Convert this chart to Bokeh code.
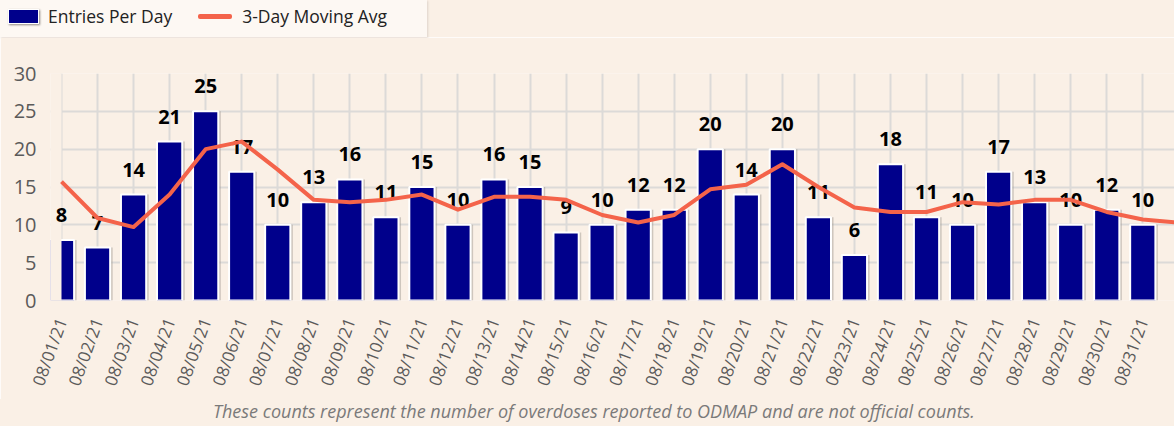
import math
from bokeh.plotting import figure
from bokeh.layouts import column
from bokeh.models import (Range1d, FixedTicker, Div, ColumnDataSource)
from bokeh.transform import dodge
from bokeh.core.properties import value
from bokeh.embed import file_html
from bokeh.resources import INLINE

dates = ["08/01/21", "08/02/21", "08/03/21", "08/04/21", "08/05/21", "08/06/21",
         "08/07/21", "08/08/21", "08/09/21", "08/10/21", "08/11/21", "08/12/21",
         "08/13/21", "08/14/21", "08/15/21", "08/16/21", "08/17/21", "08/18/21",
         "08/19/21", "08/20/21", "08/21/21", "08/22/21", "08/23/21", "08/24/21",
         "08/25/21", "08/26/21", "08/27/21", "08/28/21", "08/29/21", "08/30/21",
         "08/31/21"]
entries = [8, 7, 14, 21, 25, 17, 10, 13, 16, 11, 15, 10, 16, 15, 9, 10, 12, 12,
           20, 14, 20, 11, 6, 18, 11, 10, 17, 13, 10, 12, 10]
# 3-day moving average (last point continues past the edge)
moving_avg = [15.7, 10.9, 9.7, 14.0, 20.0, 21.0, 17.3, 13.3, 13.0, 13.3, 14.0,
              12.0, 13.7, 13.7, 13.3, 11.3, 10.3, 11.3, 14.7, 15.3, 18.0, 15.0,
              12.3, 11.7, 11.7, 13.0, 12.7, 13.3, 13.3, 11.7, 10.7, 10.3]
y_ticks = [0, 5, 10, 15, 20, 25, 30]
series_names = ["Entries Per Day", "3-Day Moving Avg"]
caption = "These counts represent the number of overdoses reported to ODMAP and are not official counts."

BG = "#FAF0E6"
NAVY = "#00008B"
RED = "#F4634A"
GREY = "#5A5A5A"
FONT = "Open Sans"

bar_src = ColumnDataSource(dict(x=list(range(len(entries))), top=entries,
                                lbl=[str(v) for v in entries]))
line_src = ColumnDataSource(dict(x=list(range(len(moving_avg))), y=moving_avg))

X0 = -0.305  # a little room left of the first category so its label shows
p = figure(width=1174, height=362, output_backend="svg", toolbar_location=None,
           x_range=Range1d(X0, 30.88), y_range=Range1d(y_ticks[0], y_ticks[-1]),
           min_border_left=50, min_border_right=0, min_border_top=36,
           min_border_bottom=99, margin=0)
p.background_fill_color = BG
p.border_fill_color = BG
p.outline_line_color = None

# grid
p.xgrid.ticker = FixedTicker(ticks=list(range(len(dates))))
p.ygrid.ticker = FixedTicker(ticks=y_ticks)
for g in (p.xgrid, p.ygrid):
    g.grid_line_color = "#DCDAD8"
    g.grid_line_width = 2

# axes
xa = p.xaxis[0]
xa.ticker = FixedTicker(ticks=list(range(len(dates))))
xa.major_label_overrides = {i: d for i, d in enumerate(dates)}
xa.major_label_orientation = math.radians(70)
xa.major_label_text_font = FONT
xa.major_label_text_font_size = "17px"
xa.major_label_text_color = GREY
xa.major_label_standoff = 12
xa.major_tick_line_color = None
xa.minor_tick_line_color = None
xa.axis_line_color = None

ya = p.yaxis[0]
ya.ticker = FixedTicker(ticks=y_ticks)
ya.major_label_text_font = FONT
ya.major_label_text_font_size = "20px"
ya.major_label_text_color = GREY
ya.major_label_standoff = 8
ya.major_tick_line_color = None
ya.minor_tick_line_color = None
ya.axis_line_color = None

# bars with a soft shadow
p.vbar(x=dodge("x", 0.07, range=p.x_range), top="top", width=0.7, source=bar_src,
       fill_color="#9A938C", fill_alpha=0.45, line_color=None)
p.vbar(x="x", top="top", width=0.7, source=bar_src, fill_color=NAVY,
       line_color="white", line_width=2)

# plot area really starts at the first category: hide what lies left of it
p.quad(left=[X0], right=[0], bottom=[y_ticks[0] - 1], top=[y_ticks[-1] + 1],
       fill_color=BG, line_color=None)

# value labels
p.text(x="x", y="top", text="lbl", source=bar_src, text_align="center",
       text_baseline="alphabetic", y_offset=-25, text_font=value(FONT),
       text_font_style="bold", text_font_size="20px", text_color="black")

# moving average line
p.line(x="x", y="y", source=line_src, line_color=RED, line_width=4,
       line_join="round", line_cap="butt")

# legend strip (HTML) above the plot
legend_html = (
    '<div style="display:flex;align-items:center;box-sizing:border-box;'
    'width:427px;height:37px;padding-bottom:4px;background:#FDF8F3;'
    'box-shadow:1px 1px 2px #DDD3CA;font-family:\'Open Sans\';font-size:17.5px;'
    'color:#222222;white-space:nowrap;">'
    '<span style="display:inline-block;width:31px;height:15px;margin-left:8px;'
    'background:%s;border:1px solid #FFFFFF;box-shadow:1px 1px 2px #8E8780;"></span>'
    '<span style="margin-left:9px;">%s</span>'
    '<span style="display:inline-block;width:34px;height:5px;margin-left:26px;'
    'background:%s;border-radius:2px;"></span>'
    '<span style="margin-left:10px;">%s</span></div>'
) % (NAVY, series_names[0], RED, series_names[1])
legend_div = Div(text=legend_html, width=1174, height=37, margin=0,
                 styles={"background-color": BG})

caption_html = (
    '<div style="box-sizing:border-box;width:1174px;height:27px;'
    'padding-left:213px;line-height:25px;font-family:\'Open Sans\';'
    'font-style:italic;font-size:18px;color:#7A7A7A;white-space:nowrap;">'
    '%s</div>' % caption)
caption_div = Div(text=caption_html, width=1174, height=27, margin=0,
                  styles={"background-color": BG})

layout = column(legend_div, p, caption_div, spacing=0, margin=0)

open("out.html", "w").write(file_html(layout, INLINE))
